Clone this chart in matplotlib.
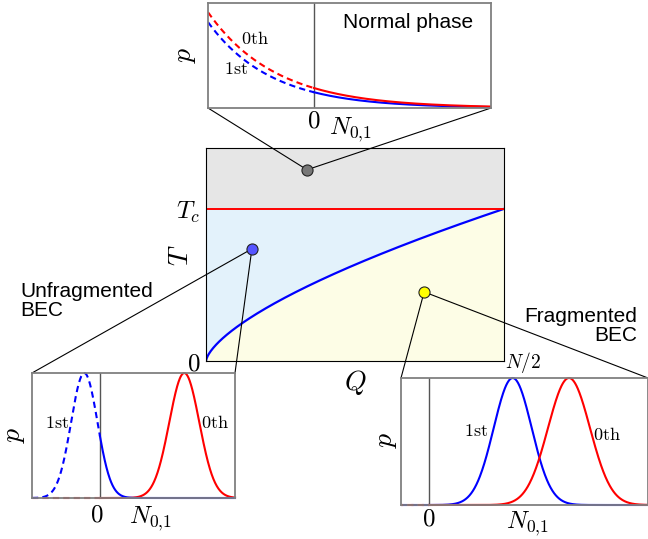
import numpy as np
import matplotlib
matplotlib.use('Agg')
from matplotlib import pyplot as plt
from matplotlib.patches import ConnectionPatch

plt.rcParams['mathtext.fontset'] = 'cm'
plt.rcParams['font.family'] = ['Liberation Sans', 'DejaVu Sans']

# phase diagram: boundary T/Tc ~ (Q/(N/2))^power, Tc normalised to 1
boundary_power = 0.66
t_max = 1.4

# marked points (Q/(N/2), T/Tc)
dot_normal = (0.339, 1.257)
dot_unfrag = (0.154, 0.737)
dot_frag = (0.732, 0.454)

# top inset: exponential tails, p(0) and decay rate
top_xlim = (-1.06, 1.77)
tail_amp = {'0th': 0.19, '1st': 0.15}
tail_rate = {'0th': 1.48, '1st': 1.60}

# bottom-left inset: gaussian centres and widths
bl_xlim = (-0.68, 1.35)
bl_centre = {'0th': 0.843, '1st': -0.157}
bl_width = {'0th': 0.15, '1st': 0.132}

# bottom-right inset
br_xlim = (-0.28, 2.19)
br_centre = {'0th': 1.40, '1st': 0.837}
br_width = {'0th': 0.21, '1st': 0.19}

W, H = 648, 539
fig = plt.figure(figsize=(W / 100, H / 100), dpi=100)


def box(x0, y0, x1, y1):
    # pixel box (top-left origin) -> figure fraction rect
    return [x0 / W, 1 - y1 / H, (x1 - x0) / W, (y1 - y0) / H]


def ftext(x, y, s, **kw):
    fig.text(x / W, 1 - y / H, s, ha=kw.pop('ha', 'center'), va=kw.pop('va', 'center'), **kw)


# ---- main phase diagram ----
ax = fig.add_axes(box(206, 148, 504, 361))
q = np.linspace(0, 1, 500)
tb = q ** boundary_power
ax.axhspan(1, t_max, color='#e6e6e6', lw=0)
ax.fill_between(q, tb, 1, color='#e3f2fb', lw=0)
ax.fill_between(q, 0, tb, color='#fdfde6', lw=0)
ax.plot(q, tb, color='#0000ff', lw=1.6)
ax.axhline(1, color='#ff0000', lw=1.4)
ax.set_xlim(0, 1)
ax.set_ylim(0, t_max)
ax.set_xticks([])
ax.set_yticks([0, 1])
ax.set_yticklabels(['$0$', '$T_c$'], fontsize=18)
ax.tick_params(axis='y', length=0, pad=4)
for s in ax.spines.values():
    s.set_linewidth(0.8)
ax.text(-0.084, 0.498, '$T$', transform=ax.transAxes, fontsize=20, rotation=90, ha='center', va='center')
ax.text(1.064, -0.005, '$N/2$', transform=ax.transAxes, fontsize=14, ha='center', va='center')
ax.text(0.5, -0.103, '$Q$', transform=ax.transAxes, fontsize=20, ha='center', va='center')

for (px, py), c in [(dot_normal, '#777777'), (dot_unfrag, '#5555ff'), (dot_frag, '#ffff00')]:
    ax.plot(px, py, 'o', ms=8, mfc=c, mec='#222222', mew=0.8, zorder=5, clip_on=False)


def inset(rect, xlim):
    a = fig.add_axes(rect)
    a.set_xlim(*xlim)
    a.set_ylim(0, 1)
    a.set_xticks([])
    a.set_yticks([])
    for s in a.spines.values():
        s.set_color('#808080')
        s.set_linewidth(1.3)
    a.axvline(0, color='#555555', lw=1.0)
    return a


def connect(a, corner, dot):
    con = ConnectionPatch(xyA=corner, coordsA=a.transAxes, xyB=dot, coordsB=ax.transData,
                          color='black', lw=0.8, zorder=3)
    con.set_clip_on(False)
    ax.add_artist(con)


# ---- top inset: normal phase ----
a1 = inset(box(208, 3, 491, 108), top_xlim)
xn = np.linspace(top_xlim[0], 0, 200)
xp = np.linspace(0, top_xlim[1], 300)
for key, c in [('1st', '#0000ff'), ('0th', '#ff0000')]:
    a1.plot(xn, tail_amp[key] * np.exp(-tail_rate[key] * xn), color=c, lw=1.5, ls=(0, (3, 2)))
    a1.plot(xp, tail_amp[key] * np.exp(-tail_rate[key] * xp), color=c, lw=1.5)
connect(a1, (0, 0), dot_normal)
connect(a1, (1, 0), dot_normal)

# ---- bottom-left inset: unfragmented ----
a2 = inset(box(32, 373, 235, 498), bl_xlim)
xn = np.linspace(bl_xlim[0], 0, 200)
xp = np.linspace(0, bl_xlim[1], 400)
a2.plot(xn, np.zeros_like(xn), color='#ff0000', lw=1.5, ls=(0, (3, 2)), clip_on=False)
a2.plot(xp, np.exp(-(xp - bl_centre['0th']) ** 2 / (2 * bl_width['0th'] ** 2)), color='#ff0000', lw=1.5, clip_on=False)
a2.plot(xn, np.exp(-(xn - bl_centre['1st']) ** 2 / (2 * bl_width['1st'] ** 2)), color='#0000ff', lw=1.5, ls=(0, (3, 2)), clip_on=False)
a2.plot(xp, np.exp(-(xp - bl_centre['1st']) ** 2 / (2 * bl_width['1st'] ** 2)), color='#0000ff', lw=1.5, clip_on=False)
connect(a2, (0, 1), dot_unfrag)
connect(a2, (1, 1), dot_unfrag)

# ---- bottom-right inset: fragmented ----
a3 = inset(box(401, 378, 648, 505), br_xlim)
xn = np.linspace(br_xlim[0], 0, 100)
xp = np.linspace(0, br_xlim[1], 500)
a3.plot(xn, np.zeros_like(xn), color='#0000ff', lw=1.5, ls=(0, (3, 2)), clip_on=False)
a3.plot(xp, np.exp(-(xp - br_centre['1st']) ** 2 / (2 * br_width['1st'] ** 2)), color='#0000ff', lw=1.5, clip_on=False)
a3.plot(xn, np.zeros_like(xn), color='#ff0000', lw=1.5, ls=(2, (3, 2)), clip_on=False)
a3.plot(xp, np.exp(-(xp - br_centre['0th']) ** 2 / (2 * br_width['0th'] ** 2)), color='#ff0000', lw=1.5, clip_on=False)
connect(a3, (0, 1), dot_frag)
connect(a3, (1, 1), dot_frag)

# ---- labels ----
ftext(408, 22, 'Normal phase', fontsize=15)
ftext(20, 301, 'Unfragmented\nBEC', fontsize=15, ha='left', linespacing=1.0)
ftext(637, 326, 'Fragmented\nBEC', fontsize=15, ha='right', multialignment='right', linespacing=1.0)

n01 = '$N_{0{,}1}$'
ftext(185, 55, '$p$', fontsize=20, rotation=90)
ftext(255, 39, r'$\mathrm{0th}$', fontsize=13)
ftext(236, 70, r'$\mathrm{1st}$', fontsize=13)
ftext(314, 121, '$0$', fontsize=18)
ftext(350, 130, n01, fontsize=18)

ftext(14, 435, '$p$', fontsize=20, rotation=90)
ftext(57, 424, r'$\mathrm{1st}$', fontsize=13)
ftext(215, 423, r'$\mathrm{0th}$', fontsize=13)
ftext(97, 514, '$0$', fontsize=18)
ftext(150, 519, n01, fontsize=18)

ftext(386, 440, '$p$', fontsize=20, rotation=90)
ftext(476, 432, r'$\mathrm{1st}$', fontsize=13)
ftext(607, 435, r'$\mathrm{0th}$', fontsize=13)
ftext(429, 518, '$0$', fontsize=18)
ftext(527, 524, n01, fontsize=18)

fig.savefig('out.png', dpi=100)
